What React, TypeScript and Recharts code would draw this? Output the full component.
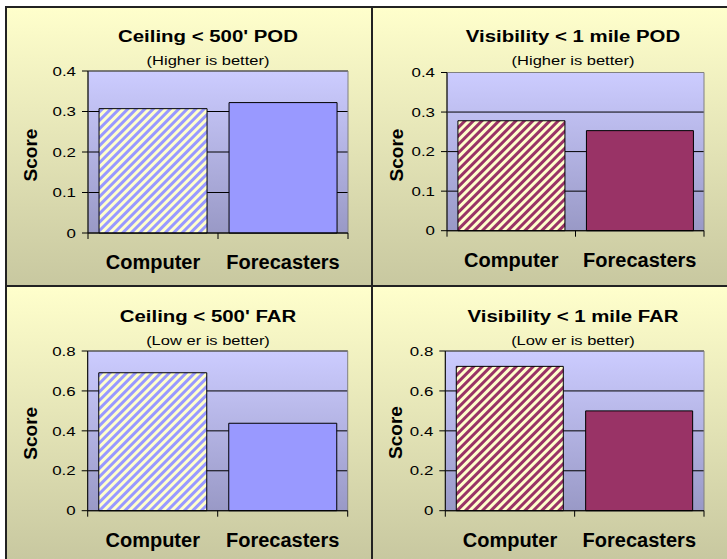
import React from 'react';
import { BarChart, Bar, XAxis, YAxis, CartesianGrid, ReferenceArea, Cell } from 'recharts';

const categories = ['Computer', 'Forecasters'];
const ceilingPOD = [0.307, 0.322];
const visibilityPOD = [0.278, 0.253];
const ceilingFAR = [0.691, 0.438];
const visibilityFAR = [0.723, 0.5];
const podTicks = [0, 0.1, 0.2, 0.3, 0.4];
const farTicks = [0, 0.2, 0.4, 0.6, 0.8];
const titles = ["Ceiling < 500' POD", 'Visibility < 1 mile POD', "Ceiling < 500' FAR", 'Visibility < 1 mile FAR'];
const subtitles = ['(Higher is better)', '(Higher is better)', '(Low er is better)', '(Low er is better)'];
const yLabel = 'Score';

const FONT = '"Liberation Sans", Arial, Helvetica, sans-serif';

const schemes: Record<string, { solid: string; pattern: string }> = {
  blue: { solid: '#9999FF', pattern: 'stripeBlue' },
  maroon: { solid: '#993366', pattern: 'stripeMaroon' },
};

const panels = [
  { values: ceilingPOD, ticks: podTicks, scheme: 'blue', left: 7, top: 7, width: 364, height: 278, plotLeft: 81, plotRight: 23, plotTop: 64, plotBottom: 52, titleX: 208, titleY: 41.7, subY: 65, scoreX: 30, scoreY: 155 },
  { values: visibilityPOD, ticks: podTicks, scheme: 'maroon', left: 373, top: 7, width: 354, height: 278, plotLeft: 74, plotRight: 23, plotTop: 65.5, plotBottom: 54.3, titleX: 573, titleY: 41.7, subY: 65, scoreX: 395.7, scoreY: 155 },
  { values: ceilingFAR, ticks: farTicks, scheme: 'blue', left: 7, top: 287, width: 364, height: 272, plotLeft: 80.7, plotRight: 23.3, plotTop: 64, plotBottom: 48.3, titleX: 208, titleY: 321.7, subY: 345, scoreX: 30, scoreY: 433.3 },
  { values: visibilityFAR, ticks: farTicks, scheme: 'maroon', left: 373, top: 287, width: 354, height: 272, plotLeft: 72.3, plotRight: 23, plotTop: 64, plotBottom: 48.3, titleX: 573, titleY: 321.7, subY: 345, scoreX: 395.2, scoreY: 432.5 },
];

const XTick = (props: any) => {
  const { x, y, payload, index } = props;
  const half = payload && typeof payload.offset === 'number' && payload.offset > 0 ? payload.offset : 65;
  return (
    <g>
      <line x1={x - half} x2={x - half} y1={y} y2={y + 6} stroke="#000" strokeWidth={1} />
      {index === categories.length - 1 && (
        <line x1={x + half} x2={x + half} y1={y} y2={y + 6} stroke="#000" strokeWidth={1} />
      )}
      <text x={x} y={y + 36} textAnchor="middle" fontFamily={FONT} fontWeight="bold" fontSize={20} fill="#000">
        {payload.value}
      </text>
    </g>
  );
};

const YTick = (props: any) => {
  const { x, y, payload } = props;
  return (
    <text
      transform={`translate(${x},${y}) scale(1.3,1)`}
      x={0}
      y={0}
      dy="0.36em"
      textAnchor="end"
      fontFamily={FONT}
      fontSize={13}
      fill="#000"
    >
      {String(payload.value)}
    </text>
  );
};

function Panel({ p }: { p: (typeof panels)[number] }) {
  const data = categories.map((name, i) => ({ name, value: p.values[i] }));
  const max = p.ticks[p.ticks.length - 1];
  const sc = schemes[p.scheme];
  return (
    <div
      style={{
        position: 'absolute',
        left: p.left,
        top: p.top,
        width: p.width,
        height: p.height,
        background: 'linear-gradient(#FFFFCC, #C8C8A0)',
      }}
    >
      <BarChart
        width={p.width}
        height={p.height}
        data={data}
        margin={{ top: p.plotTop, right: p.plotRight, bottom: 0, left: 0 }}
        barCategoryGap="8.5%"
      >
        <CartesianGrid vertical={false} stroke="#000" fill="url(#plotGrad)" fillOpacity={1} />
        <ReferenceArea y1={0} y2={max} fill="none" stroke="#808080" strokeWidth={1} ifOverflow="visible" />
        <XAxis
          dataKey="name"
          height={p.plotBottom}
          tickLine={false}
          axisLine={{ stroke: '#000' }}
          tickSize={0}
          tickMargin={0}
          interval={0}
          tick={(tp: any) => <XTick {...tp} />}
        />
        <YAxis
          width={p.plotLeft}
          domain={[0, max]}
          ticks={p.ticks}
          interval={0}
          tickSize={6}
          tickMargin={6}
          tickLine={{ stroke: '#000' }}
          axisLine={{ stroke: '#000' }}
          tick={(tp: any) => <YTick {...tp} />}
        />
        <Bar dataKey="value" stroke="#000" strokeWidth={1} isAnimationActive={false}>
          {data.map((d, i) => (
            <Cell key={d.name} fill={i === 0 ? `url(#${sc.pattern})` : sc.solid} />
          ))}
        </Bar>
      </BarChart>
    </div>
  );
}

export default function App() {
  return (
    <div style={{ position: 'absolute', left: 0, top: 0, width: 727, height: 559, background: '#FFFFFF', overflow: 'hidden' }}>
      <svg width={0} height={0} style={{ position: 'absolute' }}>
        <defs>
          <linearGradient id="plotGrad" x1="0" y1="0" x2="0" y2="1">
            <stop offset="0%" stopColor="#CCCCFF" />
            <stop offset="100%" stopColor="#9999C6" />
          </linearGradient>
          <pattern id="stripeBlue" patternUnits="userSpaceOnUse" width={6} height={6} patternTransform="rotate(45)">
            <rect width={6} height={6} fill="#FFFFCC" />
            <rect width={3} height={6} fill="#9999FF" />
          </pattern>
          <pattern id="stripeMaroon" patternUnits="userSpaceOnUse" width={6} height={6} patternTransform="rotate(45)">
            <rect width={6} height={6} fill="#FFFFCC" />
            <rect width={3} height={6} fill="#993366" />
          </pattern>
        </defs>
      </svg>
      {panels.map((p, i) => (
        <Panel key={i} p={p} />
      ))}
      <svg width={727} height={559} style={{ position: 'absolute', left: 0, top: 0, pointerEvents: 'none' }}>
        {panels.map((p, i) => (
          <g key={i}>
            <text
              transform={`translate(${p.titleX},${p.titleY}) scale(1.2,1)`}
              textAnchor="middle"
              fontFamily={FONT}
              fontWeight="bold"
              fontSize={17}
              fill="#000"
            >
              {titles[i]}
            </text>
            <text
              transform={`translate(${p.titleX},${p.subY}) scale(1.27,1)`}
              textAnchor="middle"
              fontFamily={FONT}
              fontSize={13}
              fill="#000"
            >
              {subtitles[i]}
            </text>
            <text
              transform={`translate(${p.scoreX},${p.scoreY}) rotate(-90)`}
              dy="0.36em"
              textAnchor="middle"
              fontFamily={FONT}
              fontWeight="bold"
              fontSize={19}
              fill="#000"
            >
              {yLabel}
            </text>
          </g>
        ))}
        <rect x={5} y={6} width={722} height={2} fill="#222" />
        <rect x={5} y={6} width={2} height={553} fill="#222" />
        <rect x={371} y={6} width={2} height={553} fill="#222" />
        <rect x={5} y={285} width={722} height={2} fill="#222" />
      </svg>
    </div>
  );
}
